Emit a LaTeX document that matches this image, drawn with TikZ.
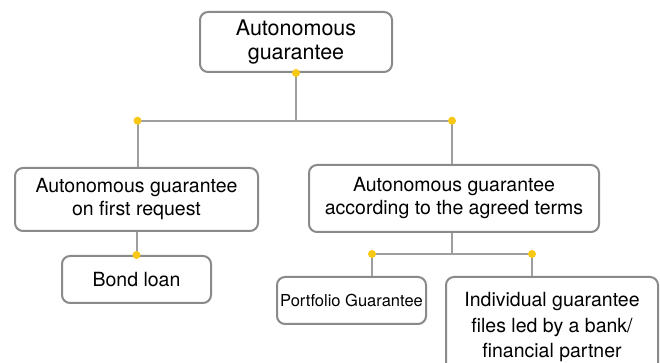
\documentclass[tikz,border=0pt]{standalone}
\usepackage{fontspec}
\setmainfont{TeX Gyre Heros}
\usetikzlibrary{positioning}
\definecolor{linegray}{RGB}{158,158,158}
\definecolor{boxgray}{RGB}{138,138,138}
\definecolor{dotyellow}{RGB}{248,200,22}
\begin{document}
\begin{tikzpicture}[x=1pt,y=1pt,
    box/.style={draw=boxgray, line width=2pt, rounded corners=8pt, fill=white,
      align=center, inner sep=0pt, font=\fontsize{19.5}{23}\selectfont},
    link/.style={draw=linegray, line width=2pt},
    dot/.style={circle, fill=dotyellow, inner sep=0pt, minimum size=8pt}]
    % Sfondo e ritaglio
    \clip (0,0) rectangle (660,363);
    \fill[white] (0,0) rectangle (660,363);

    % Riquadri
    \node[box, minimum width=192pt, minimum height=60pt, font=\fontsize{21.5}{24}\selectfont]
      (auto) at (296,321) {Autonomous\\guarantee};
    \node[box, minimum width=243pt, minimum height=63pt]
      (first) at (136.5,163.5) {Autonomous guarantee\\on first request};
    \node[box, minimum width=149pt, minimum height=47pt]
      (bond) at (136.5,83.5) {Bond loan};
    \node[box, minimum width=290pt, minimum height=67pt]
      (agreed) at (454,164.5) {Autonomous guarantee\\according to the agreed terms};
    \node[box, minimum width=149pt, minimum height=47pt, font=\fontsize{16.5}{19}\selectfont]
      (portfolio) at (351.5,62.5) {Portfolio Guarantee};
    \node[box, minimum width=212pt, minimum height=101pt, font=\fontsize{19.5}{25.5}\selectfont]
      (individual) at (552,35.5) {Individual guarantee\\files led by a bank/\\financial partner};

    % Punti di giunzione
    \coordinate (jleft) at (137.5,242.3);
    \coordinate (jright) at (452,242.3);
    \coordinate (jport) at (372,109);
    \coordinate (jind) at (532,109);

    % Connettori dal livello superiore
    \draw[link] (auto.south) -- (auto.south |- jleft);
    \draw[link] (jleft) -- (jright);
    \draw[link] (jleft) -- (jleft |- first.north);
    \draw[link] (jright) -- (jright |- agreed.north);

    % Ramo sinistro
    \draw[link] (first.south) -- (bond.north);

    % Ramo destro
    \draw[link] (jright |- agreed.south) -- (jright |- jport);
    \draw[link] (jport) -- (jind);
    \draw[link] (jport) -- (jport |- portfolio.north);
    \draw[link] (jind) -- (jind |- individual.north);

    % Pallini gialli
    \node[dot] (dauto) at (auto.south) {};
    \node[dot] (dleft) at (jleft) {};
    \node[dot] (dright) at (jright) {};
    \node[dot] (dbond) at (bond.north) {};
    \node[dot] (dport) at (jport) {};
    \node[dot] (dind) at (jind) {};
\end{tikzpicture}
\end{document}
